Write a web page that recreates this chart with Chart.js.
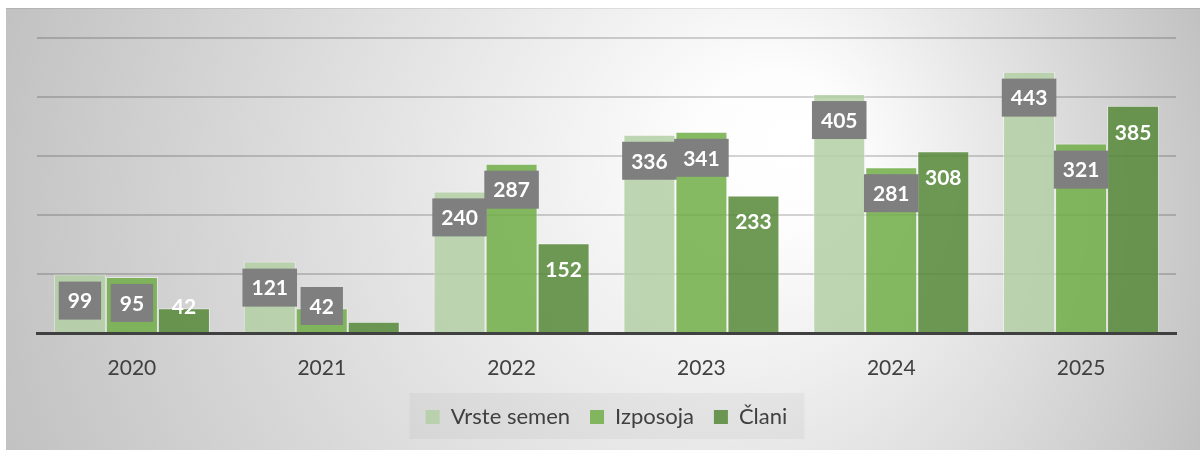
<!DOCTYPE html>
<html>
<head>
<meta charset="utf-8">
<script src="https://cdn.jsdelivr.net/npm/chart.js@4/dist/chart.umd.min.js"></script>
<style>
  html, body { margin: 0; padding: 0; background: #fff; }
</style>
</head>
<body>
<canvas id="semenaChart" width="1200" height="450"></canvas>
<script>
var leta = ['2020', '2021', '2022', '2023', '2024', '2025'];
var vrsteSemen = [99, 121, 240, 336, 405, 443];
var izposoja = [95, 42, 287, 341, 281, 321];
var clani = [42, 19, 152, 233, 308, 385];
// v izvirniku ima stolpec Člani 2021 skrito oznako
var claniOznaka = [true, false, true, true, true, true];
var yMax = 500;
var yKorak = 100;

var ozadje = {
  id: 'ozadje',
  beforeDraw: function(chart) {
    var ctx = chart.ctx, w = chart.width, h = chart.height;
    ctx.save();
    ctx.fillStyle = '#ffffff';
    ctx.fillRect(0, 0, w, h);
    var g = ctx.createRadialGradient(800, 140, 0, 600, 230, 640);
    g.addColorStop(0, '#ffffff');
    g.addColorStop(0.12, '#fdfdfd');
    g.addColorStop(1, '#c1c1c1');
    ctx.fillStyle = g;
    ctx.fillRect(6, 8, w - 6, h - 8);
    ctx.fillStyle = 'rgba(0,0,0,0.08)';
    ctx.fillRect(6, 8, w - 6, 1);
    // okvir legende
    var lg = chart.legend;
    var cx = lg.left + lg.width / 2;
    ctx.fillStyle = 'rgba(0,0,0,0.035)';
    ctx.fillRect(cx - 197, lg.top + 7, 395, 46);
    ctx.restore();
  }
};

var oznake = {
  id: 'oznake',
  afterDatasetsDraw: function(chart) {
    var ctx = chart.ctx;
    ctx.save();
    ctx.font = 'bold 21px Lato';
    ctx.textAlign = 'center';
    ctx.textBaseline = 'middle';
    chart.data.datasets.forEach(function(ds, di) {
      var meta = chart.getDatasetMeta(di);
      meta.data.forEach(function(bar, i) {
        if (ds.prikaziOznako && !ds.prikaziOznako[i]) return;
        var txt = String(ds.data[i]);
        var cy = Math.min(bar.y + 26, bar.base - 26);
        if (ds.okvir) {
          var bw = ctx.measureText(txt).width + 18;
          ctx.fillStyle = '#7f7f7f';
          ctx.fillRect(bar.x - bw / 2, cy - 19, bw, 38);
        }
        ctx.fillStyle = '#ffffff';
        ctx.fillText(txt, bar.x, cy + 1);
      });
    });
    ctx.restore();
  }
};

var ctx = document.getElementById('semenaChart').getContext('2d');
var semenaChart = new Chart(ctx, {
  type: 'bar',
  data: {
    labels: leta,
    datasets: [{
      label: 'Vrste semen',
      data: vrsteSemen,
      backgroundColor: 'rgba(179, 208, 164, 0.85)',
      borderColor: 'rgba(255, 255, 255, 0.45)',
      borderWidth: 1,
      okvir: true
    }, {
      label: 'Izposoja',
      data: izposoja,
      backgroundColor: 'rgba(112, 173, 71, 0.85)',
      borderColor: 'rgba(255, 255, 255, 0.45)',
      borderWidth: 1,
      okvir: true
    }, {
      label: 'Člani',
      data: clani,
      backgroundColor: 'rgba(86, 136, 55, 0.85)',
      borderColor: 'rgba(255, 255, 255, 0.45)',
      borderWidth: 1,
      okvir: false,
      prikaziOznako: claniOznaka
    }]
  },
  options: {
    responsive: false,
    animation: false,
    layout: { padding: { left: 37, right: 24, top: 38, bottom: 12 } },
    datasets: { bar: { categoryPercentage: 0.822, barPercentage: 1.0 } },
    plugins: {
      tooltip: { enabled: false },
      legend: {
        position: 'bottom',
        labels: {
          color: '#404040',
          font: { family: 'Lato', size: 22 },
          boxWidth: 14,
          boxHeight: 14,
          padding: 20,
          generateLabels: function(chart) {
            var items = Chart.defaults.plugins.legend.labels.generateLabels(chart);
            items.forEach(function(it) { it.lineWidth = 0; });
            return items;
          }
        }
      }
    },
    scales: {
      x: {
        grid: { display: false },
        border: { display: true, color: '#404040', width: 3, z: 1 },
        ticks: { color: '#404040', font: { family: 'Lato', size: 21 }, padding: 15 },
        afterFit: function(s) { s.height = 53; }
      },
      y: {
        min: 0,
        max: yMax,
        ticks: { display: false, stepSize: yKorak },
        grid: {
          drawTicks: false,
          lineWidth: 2,
          color: function(c) { return c.tick && c.tick.value === 0 ? 'rgba(0,0,0,0)' : 'rgba(0,0,0,0.17)'; }
        },
        border: { display: false },
        afterFit: function(s) { s.width = 0; }
      }
    }
  },
  plugins: [ozadje, oznake]
});
</script>
</body>
</html>
